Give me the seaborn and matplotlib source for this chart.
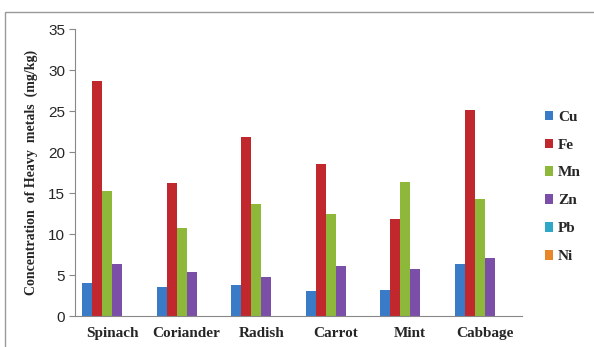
import pandas as pd
import matplotlib
matplotlib.use("Agg")
import matplotlib.pyplot as plt
import seaborn as sns
from matplotlib.patches import Rectangle

vegetables = ["Spinach", "Coriander", "Radish", "Carrot", "Mint", "Cabbage"]
metals = ["Cu", "Fe", "Mn", "Zn", "Pb", "Ni"]
cu = [4.1, 3.5, 3.8, 3.1, 3.2, 6.4]
fe = [28.7, 16.2, 21.9, 18.5, 11.9, 25.1]
mn = [15.3, 10.8, 13.7, 12.5, 16.3, 14.3]
zn = [6.3, 5.4, 4.8, 6.1, 5.7, 7.1]
pb = [0, 0, 0, 0, 0, 0]
ni = [0, 0, 0, 0, 0, 0]
colors = ["#3A7BC8", "#C0282D", "#8DB83A", "#7B4FA8", "#2FA8C8", "#E8872A"]

rows = []
for metal, vals in zip(metals, [cu, fe, mn, zn, pb, ni]):
    for veg, v in zip(vegetables, vals):
        rows.append({"Vegetable": veg, "Metal": metal, "Value": v})
df = pd.DataFrame(rows)

sns.set_style("white")
fig = plt.figure(figsize=(5.94, 3.47), dpi=100)
ax = fig.add_axes([0.126, 0.089, 0.753, 0.827])

sns.barplot(data=df, x="Vegetable", y="Value", hue="Metal", order=vegetables,
            hue_order=metals, palette=colors, width=0.8, saturation=1,
            linewidth=0, ax=ax)

ax.set_ylim(0, 35)
ax.set_xlim(-0.5, 5.5)
ax.set_yticks(range(0, 36, 5))
ax.tick_params(axis="y", which="major", direction="out", length=4, color="#888888",
               labelsize=11, pad=3, left=True)
ax.tick_params(axis="x", length=0, pad=8)
for lab in ax.get_yticklabels():
    lab.set_family("Liberation Sans")
for lab in ax.get_xticklabels():
    lab.set_family("Liberation Serif")
    lab.set_fontweight("bold")
    lab.set_fontsize(11)

ax.set_xlabel("")
ax.set_ylabel("Concentration  of Heavy  metals  (mg/kg)", family="Liberation Serif",
              fontweight="bold", fontsize=10, labelpad=7)

for side in ["top", "right"]:
    ax.spines[side].set_visible(False)
ax.spines["left"].set_color("#888888")
ax.spines["bottom"].set_color("#888888")

handles, labels = ax.get_legend_handles_labels()
ax.legend(handles, labels, loc="center left", bbox_to_anchor=(1.02, 0.45), frameon=False,
          prop={"family": "Liberation Serif", "weight": "bold", "size": 11},
          handlelength=0.55, handleheight=0.55, handletextpad=0.3, labelspacing=0.98)

fig.patches.append(Rectangle((5 / 594, -0.05), 1.2, 1 - 12 / 347 + 0.05,
                             transform=fig.transFigure, fill=False,
                             edgecolor="#999999", linewidth=1))

fig.savefig("out.png", dpi=100)
plt.close(fig)
